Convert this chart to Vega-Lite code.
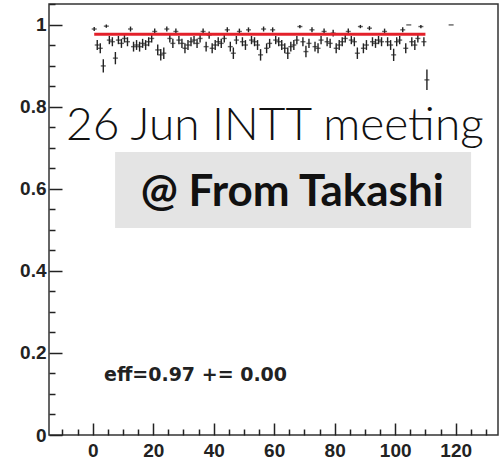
{
  "$schema": "https://vega.github.io/schema/vega-lite/v6.json",
  "width": 449,
  "height": 431,
  "autosize": {"type": "none"},
  "padding": {"left": 49, "top": 4, "right": 1, "bottom": 27},
  "background": "white",
  "config": {"view": {"stroke": "#333", "strokeWidth": 1.5}},
  "datasets": {
    "pts": [
      {"x":0.5,"y":0.990,"lo":0.985,"hi":0.995},
      {"x":1.5,"y":0.951,"lo":0.939,"hi":0.963},
      {"x":2.5,"y":0.943,"lo":0.931,"hi":0.955},
      {"x":3.5,"y":0.900,"lo":0.884,"hi":0.916},
      {"x":4.5,"y":0.997,"lo":0.993,"hi":1.001},
      {"x":5.5,"y":0.963,"lo":0.953,"hi":0.973},
      {"x":6.5,"y":0.959,"lo":0.948,"hi":0.970},
      {"x":7.5,"y":0.919,"lo":0.904,"hi":0.934},
      {"x":8.5,"y":0.963,"lo":0.953,"hi":0.973},
      {"x":9.5,"y":0.955,"lo":0.944,"hi":0.966},
      {"x":10.5,"y":0.967,"lo":0.957,"hi":0.977},
      {"x":11.5,"y":0.959,"lo":0.948,"hi":0.970},
      {"x":12.5,"y":0.990,"lo":0.984,"hi":0.996},
      {"x":13.5,"y":0.947,"lo":0.935,"hi":0.959},
      {"x":14.5,"y":0.951,"lo":0.939,"hi":0.963},
      {"x":15.5,"y":0.947,"lo":0.935,"hi":0.959},
      {"x":16.5,"y":0.955,"lo":0.944,"hi":0.966},
      {"x":17.5,"y":0.951,"lo":0.939,"hi":0.963},
      {"x":18.5,"y":0.959,"lo":0.948,"hi":0.970},
      {"x":19.5,"y":0.967,"lo":0.957,"hi":0.977},
      {"x":20.5,"y":0.984,"lo":0.977,"hi":0.991},
      {"x":21.5,"y":0.939,"lo":0.926,"hi":0.952},
      {"x":22.5,"y":0.927,"lo":0.913,"hi":0.941},
      {"x":23.5,"y":0.931,"lo":0.917,"hi":0.945},
      {"x":24.5,"y":0.990,"lo":0.984,"hi":0.996},
      {"x":25.5,"y":0.967,"lo":0.957,"hi":0.977},
      {"x":26.5,"y":0.955,"lo":0.944,"hi":0.966},
      {"x":27.5,"y":0.984,"lo":0.977,"hi":0.991},
      {"x":28.5,"y":0.963,"lo":0.953,"hi":0.973},
      {"x":29.5,"y":0.955,"lo":0.944,"hi":0.966},
      {"x":30.5,"y":0.943,"lo":0.931,"hi":0.955},
      {"x":31.5,"y":0.951,"lo":0.939,"hi":0.963},
      {"x":32.5,"y":0.959,"lo":0.948,"hi":0.970},
      {"x":33.5,"y":0.963,"lo":0.953,"hi":0.973},
      {"x":34.5,"y":0.955,"lo":0.944,"hi":0.966},
      {"x":35.5,"y":0.967,"lo":0.957,"hi":0.977},
      {"x":36.5,"y":0.984,"lo":0.977,"hi":0.991},
      {"x":37.5,"y":0.947,"lo":0.935,"hi":0.959},
      {"x":38.5,"y":0.975,"lo":0.966,"hi":0.984},
      {"x":39.5,"y":0.943,"lo":0.931,"hi":0.955},
      {"x":40.5,"y":0.951,"lo":0.939,"hi":0.963},
      {"x":41.5,"y":0.959,"lo":0.948,"hi":0.970},
      {"x":42.5,"y":0.955,"lo":0.944,"hi":0.966},
      {"x":43.5,"y":0.967,"lo":0.957,"hi":0.977},
      {"x":44.5,"y":0.988,"lo":0.982,"hi":0.994},
      {"x":45.5,"y":0.947,"lo":0.935,"hi":0.959},
      {"x":46.5,"y":0.931,"lo":0.917,"hi":0.945},
      {"x":47.5,"y":0.963,"lo":0.953,"hi":0.973},
      {"x":48.5,"y":0.984,"lo":0.977,"hi":0.991},
      {"x":49.5,"y":0.959,"lo":0.948,"hi":0.970},
      {"x":50.5,"y":0.951,"lo":0.939,"hi":0.963},
      {"x":51.5,"y":0.988,"lo":0.982,"hi":0.994},
      {"x":52.5,"y":0.963,"lo":0.953,"hi":0.973},
      {"x":53.5,"y":0.959,"lo":0.948,"hi":0.970},
      {"x":54.5,"y":0.951,"lo":0.939,"hi":0.963},
      {"x":55.5,"y":0.927,"lo":0.913,"hi":0.941},
      {"x":56.5,"y":0.990,"lo":0.984,"hi":0.996},
      {"x":57.5,"y":0.943,"lo":0.931,"hi":0.955},
      {"x":58.5,"y":0.955,"lo":0.944,"hi":0.966},
      {"x":59.5,"y":0.988,"lo":0.982,"hi":0.994},
      {"x":60.5,"y":0.963,"lo":0.953,"hi":0.973},
      {"x":61.5,"y":0.959,"lo":0.948,"hi":0.970},
      {"x":62.5,"y":0.951,"lo":0.939,"hi":0.963},
      {"x":63.5,"y":0.943,"lo":0.931,"hi":0.955},
      {"x":64.5,"y":0.931,"lo":0.917,"hi":0.945},
      {"x":65.5,"y":0.947,"lo":0.935,"hi":0.959},
      {"x":66.5,"y":0.951,"lo":0.939,"hi":0.963},
      {"x":67.5,"y":0.963,"lo":0.953,"hi":0.973},
      {"x":68.5,"y":0.996,"lo":0.992,"hi":1.000},
      {"x":69.5,"y":0.959,"lo":0.948,"hi":0.970},
      {"x":70.5,"y":0.935,"lo":0.921,"hi":0.949},
      {"x":71.5,"y":0.955,"lo":0.944,"hi":0.966},
      {"x":72.5,"y":0.988,"lo":0.982,"hi":0.994},
      {"x":73.5,"y":0.947,"lo":0.935,"hi":0.959},
      {"x":74.5,"y":0.943,"lo":0.931,"hi":0.955},
      {"x":75.5,"y":0.963,"lo":0.953,"hi":0.973},
      {"x":76.5,"y":0.984,"lo":0.977,"hi":0.991},
      {"x":77.5,"y":0.959,"lo":0.948,"hi":0.970},
      {"x":78.5,"y":0.955,"lo":0.944,"hi":0.966},
      {"x":79.5,"y":0.980,"lo":0.972,"hi":0.988},
      {"x":80.5,"y":0.943,"lo":0.931,"hi":0.955},
      {"x":81.5,"y":0.951,"lo":0.939,"hi":0.963},
      {"x":82.5,"y":0.959,"lo":0.948,"hi":0.970},
      {"x":83.5,"y":0.967,"lo":0.957,"hi":0.977},
      {"x":84.5,"y":0.984,"lo":0.977,"hi":0.991},
      {"x":85.5,"y":0.963,"lo":0.953,"hi":0.973},
      {"x":86.5,"y":0.959,"lo":0.948,"hi":0.970},
      {"x":87.5,"y":0.931,"lo":0.917,"hi":0.945},
      {"x":88.5,"y":0.996,"lo":0.992,"hi":1.000},
      {"x":89.5,"y":0.943,"lo":0.931,"hi":0.955},
      {"x":90.5,"y":0.951,"lo":0.939,"hi":0.963},
      {"x":91.5,"y":0.992,"lo":0.987,"hi":0.997},
      {"x":92.5,"y":0.959,"lo":0.948,"hi":0.970},
      {"x":93.5,"y":0.955,"lo":0.944,"hi":0.966},
      {"x":94.5,"y":0.963,"lo":0.953,"hi":0.973},
      {"x":95.5,"y":0.959,"lo":0.948,"hi":0.970},
      {"x":96.5,"y":0.984,"lo":0.977,"hi":0.991},
      {"x":97.5,"y":0.959,"lo":0.948,"hi":0.970},
      {"x":98.5,"y":0.951,"lo":0.939,"hi":0.963},
      {"x":99.5,"y":0.927,"lo":0.912,"hi":0.942},
      {"x":100.5,"y":0.959,"lo":0.948,"hi":0.970},
      {"x":101.5,"y":0.963,"lo":0.953,"hi":0.973},
      {"x":102.5,"y":0.988,"lo":0.982,"hi":0.994},
      {"x":103.5,"y":0.943,"lo":0.931,"hi":0.955},
      {"x":104.5,"y":1.000,"lo":1.000,"hi":1.000},
      {"x":105.5,"y":0.959,"lo":0.948,"hi":0.970},
      {"x":106.5,"y":0.951,"lo":0.939,"hi":0.963},
      {"x":107.5,"y":0.967,"lo":0.957,"hi":0.977},
      {"x":108.5,"y":0.996,"lo":0.992,"hi":1.000},
      {"x":109.5,"y":0.959,"lo":0.948,"hi":0.970},
      {"x":110.5,"y":0.866,"lo":0.841,"hi":0.891},
      {"x":118.5,"y":1.000,"lo":1.000,"hi":1.000}
    ],
    "fit": [{"x0": 0.5, "x1": 110, "eff": 0.977}],
    "box": [{"x0": 7.4, "x1": 125.1, "y0": 0.505, "y1": 0.690}],
    "title1": [{"x": -8.8, "y": 0.7195, "label": "26 Jun INTT meeting"}],
    "title2": [{"x": 66.0, "y": 0.5585, "label": "@ From Takashi"}],
    "effnote": [{"x": 3.74, "y": 0.1317, "label": "eff=0.97 += 0.00"}]
  },
  "resolve": {"axis": {"x": "independent", "y": "independent"}},
  "layer": [
    {
      "data": {"name": "box"},
      "mark": {"type": "rect", "color": "#e4e4e4"},
      "encoding": {
        "x": {"field": "x0", "type": "quantitative", "scale": {"domain": [-14.45, 134.0], "nice": false, "zero": false}, "axis": null},
        "x2": {"field": "x1"},
        "y": {"field": "y0", "type": "quantitative", "scale": {"domain": [0, 1.051], "nice": false, "zero": false}, "axis": null},
        "y2": {"field": "y1"}
      }
    },
    {
      "data": {"name": "pts"},
      "mark": {"type": "rule", "color": "#222", "strokeWidth": 1.4},
      "encoding": {
        "x": {"field": "x", "type": "quantitative", "axis": {"orient": "bottom", "values": [0,20,40,60,80,100,120], "ticks": false, "domain": false, "grid": false, "title": null, "labelFont": "Liberation Sans", "labelFontWeight": "bold", "labelFontSize": 19, "labelColor": "#222", "labelPadding": 6, "labelFlush": false}},
        "y": {"field": "lo", "type": "quantitative", "axis": {"orient": "left", "values": [0,0.2,0.4,0.6,0.8,1], "format": "~g", "ticks": false, "domain": false, "grid": false, "title": null, "labelFont": "Liberation Sans", "labelFontWeight": "bold", "labelFontSize": 19, "labelColor": "#222", "labelPadding": 3, "labelFlush": false}},
        "y2": {"field": "hi"}
      }
    },
    {
      "data": {"name": "pts"},
      "mark": {"type": "tick", "orient": "horizontal", "color": "#222", "size": 5, "thickness": 1.4},
      "encoding": {
        "x": {"field": "x", "type": "quantitative", "axis": {"orient": "bottom", "values": [0,20,40,60,80,100,120], "labels": false, "domain": false, "grid": false, "title": null, "tickSize": -12, "tickWidth": 1.5, "tickColor": "#222"}},
        "y": {"field": "y", "type": "quantitative", "axis": {"orient": "left", "values": [0,0.2,0.4,0.6,0.8,1], "labels": false, "domain": false, "grid": false, "title": null, "tickSize": -13, "tickWidth": 1.5, "tickColor": "#222"}}
      }
    },
    {
      "data": {"name": "fit"},
      "mark": {"type": "rule", "color": "#e3202a", "strokeWidth": 3},
      "encoding": {
        "x": {"field": "x0", "type": "quantitative", "axis": {"orient": "bottom", "values": [-10,-5,5,10,15,25,30,35,45,50,55,65,70,75,85,90,95,105,110,115,125,130], "labels": false, "domain": false, "grid": false, "title": null, "tickSize": -6, "tickWidth": 1.5, "tickColor": "#222"}},
        "x2": {"field": "x1"},
        "y": {"field": "eff", "type": "quantitative", "axis": {"orient": "left", "values": [0.05,0.1,0.15,0.25,0.3,0.35,0.45,0.5,0.55,0.65,0.7,0.75,0.85,0.9,0.95,1.05], "labels": false, "domain": false, "grid": false, "title": null, "tickSize": -6, "tickWidth": 1.5, "tickColor": "#222"}}
      }
    },
    {
      "data": {"name": "title1"},
      "mark": {"type": "text", "font": "Lato", "fontWeight": 300, "fontSize": 46, "align": "left", "baseline": "alphabetic", "color": "#111", "clip": false},
      "encoding": {
        "x": {"field": "x", "type": "quantitative", "axis": null},
        "y": {"field": "y", "type": "quantitative", "axis": null},
        "text": {"field": "label"}
      }
    },
    {
      "data": {"name": "title2"},
      "mark": {"type": "text", "font": "Lato", "fontWeight": "bold", "fontSize": 44, "align": "center", "baseline": "alphabetic", "color": "#111"},
      "encoding": {
        "x": {"field": "x", "type": "quantitative", "axis": null},
        "y": {"field": "y", "type": "quantitative", "axis": null},
        "text": {"field": "label"}
      }
    },
    {
      "data": {"name": "effnote"},
      "mark": {"type": "text", "font": "DejaVu Sans", "fontWeight": "bold", "fontSize": 19, "align": "left", "baseline": "alphabetic", "color": "#222"},
      "encoding": {
        "x": {"field": "x", "type": "quantitative", "axis": null},
        "y": {"field": "y", "type": "quantitative", "axis": null},
        "text": {"field": "label"}
      }
    }
  ]
}
